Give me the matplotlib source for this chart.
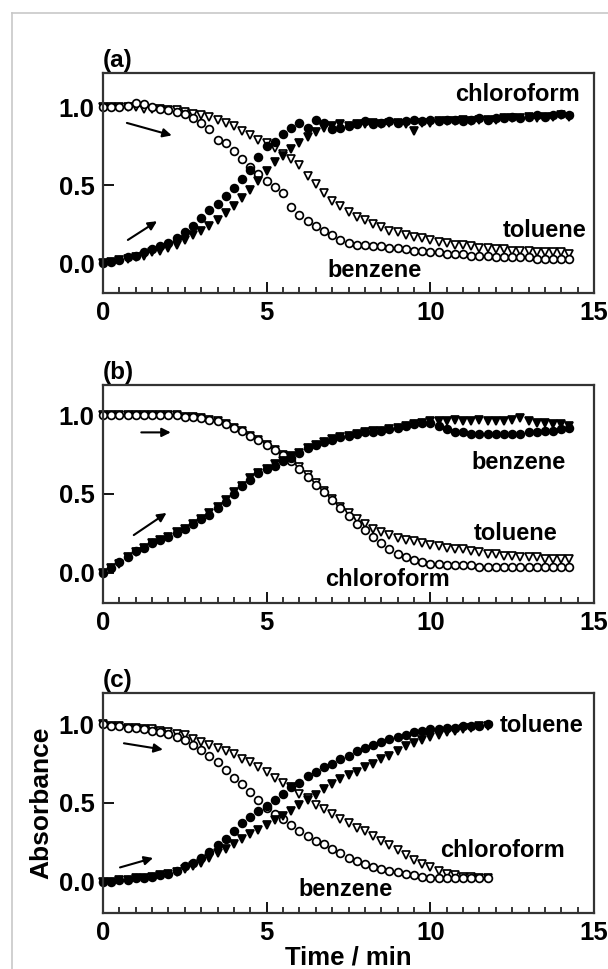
import matplotlib
matplotlib.use("Agg")
import matplotlib.pyplot as plt
from matplotlib.lines import Line2D

plt.rcParams['font.family'] = ['Liberation Sans', 'DejaVu Sans']
plt.rcParams['font.weight'] = 'bold'

# ---------------- data ----------------
t_ab = [0.0, 0.25, 0.5, 0.75, 1.0, 1.25, 1.5, 1.75, 2.0, 2.25,
        2.5, 2.75, 3.0, 3.25, 3.5, 3.75, 4.0, 4.25, 4.5, 4.75,
        5.0, 5.25, 5.5, 5.75, 6.0, 6.25, 6.5, 6.75, 7.0, 7.25,
        7.5, 7.75, 8.0, 8.25, 8.5, 8.75, 9.0, 9.25, 9.5, 9.75,
        10.0, 10.25, 10.5, 10.75, 11.0, 11.25, 11.5, 11.75, 12.0, 12.25,
        12.5, 12.75, 13.0, 13.25, 13.5, 13.75, 14.0, 14.25]

t_c = [0.0, 0.25, 0.5, 0.75, 1.0, 1.25, 1.5, 1.75, 2.0, 2.25,
       2.5, 2.75, 3.0, 3.25, 3.5, 3.75, 4.0, 4.25, 4.5, 4.75,
       5.0, 5.25, 5.5, 5.75, 6.0, 6.25, 6.5, 6.75, 7.0, 7.25,
       7.5, 7.75, 8.0, 8.25, 8.5, 8.75, 9.0, 9.25, 9.5, 9.75,
       10.0, 10.25, 10.5, 10.75, 11.0, 11.25, 11.5, 11.75]

# panel (a)
a_rise_circle = [0.00, 0.01, 0.02, 0.04, 0.05, 0.07, 0.09, 0.11, 0.13, 0.16,
                 0.20, 0.24, 0.29, 0.34, 0.38, 0.43, 0.48, 0.54, 0.60, 0.68,
                 0.75, 0.78, 0.83, 0.87, 0.90, 0.87, 0.92, 0.90, 0.86, 0.87,
                 0.88, 0.89, 0.91, 0.89, 0.90, 0.91, 0.90, 0.91, 0.92, 0.91,
                 0.92, 0.91, 0.92, 0.92, 0.91, 0.92, 0.93, 0.92, 0.93, 0.93,
                 0.94, 0.93, 0.94, 0.95, 0.94, 0.95, 0.96, 0.95]
a_rise_tri = [0.00, 0.01, 0.02, 0.03, 0.04, 0.05, 0.07, 0.08, 0.10, 0.12,
              0.15, 0.18, 0.21, 0.24, 0.28, 0.32, 0.37, 0.42, 0.47, 0.53,
              0.59, 0.65, 0.69, 0.73, 0.77, 0.81, 0.84, 0.87, 0.88, 0.89,
              0.88, 0.89, 0.89, 0.90, 0.89, 0.90, 0.90, 0.89, 0.85, 0.90,
              0.90, 0.91, 0.91, 0.91, 0.92, 0.91, 0.92, 0.92, 0.92, 0.93,
              0.93, 0.93, 0.94, 0.93, 0.94, 0.94, 0.95, 0.94]
a_fall_circle = [1.00, 1.00, 1.00, 1.01, 1.03, 1.02, 1.00, 0.99, 0.98, 0.97,
                 0.96, 0.93, 0.90, 0.86, 0.79, 0.77, 0.72, 0.67, 0.62, 0.57,
                 0.53, 0.49, 0.45, 0.36, 0.31, 0.27, 0.24, 0.21, 0.18, 0.15,
                 0.13, 0.12, 0.12, 0.11, 0.11, 0.10, 0.10, 0.09, 0.08, 0.08,
                 0.07, 0.07, 0.06, 0.06, 0.06, 0.05, 0.05, 0.05, 0.04, 0.04,
                 0.04, 0.04, 0.04, 0.03, 0.03, 0.03, 0.03, 0.03]
a_fall_tri = [1.00, 1.00, 1.00, 1.00, 1.00, 0.99, 0.99, 0.99, 0.98, 0.98,
              0.97, 0.96, 0.95, 0.94, 0.92, 0.90, 0.88, 0.85, 0.82, 0.79,
              0.77, 0.74, 0.70, 0.67, 0.63, 0.56, 0.51, 0.45, 0.40, 0.37,
              0.33, 0.30, 0.28, 0.25, 0.23, 0.21, 0.20, 0.18, 0.17, 0.16,
              0.15, 0.14, 0.13, 0.12, 0.12, 0.11, 0.10, 0.10, 0.09, 0.09,
              0.08, 0.08, 0.08, 0.07, 0.07, 0.07, 0.07, 0.06]

# panel (b)
b_rise_circle = [0.00, 0.03, 0.07, 0.10, 0.14, 0.16, 0.19, 0.21, 0.23, 0.25,
                 0.28, 0.31, 0.34, 0.37, 0.41, 0.45, 0.50, 0.55, 0.59, 0.63,
                 0.66, 0.68, 0.71, 0.73, 0.76, 0.79, 0.81, 0.83, 0.84, 0.86,
                 0.87, 0.88, 0.89, 0.89, 0.90, 0.91, 0.92, 0.93, 0.94, 0.95,
                 0.95, 0.93, 0.91, 0.89, 0.89, 0.88, 0.88, 0.88, 0.88, 0.88,
                 0.88, 0.88, 0.89, 0.89, 0.90, 0.90, 0.91, 0.92]
b_rise_tri = [0.00, 0.03, 0.06, 0.10, 0.13, 0.16, 0.19, 0.21, 0.23, 0.26,
              0.28, 0.31, 0.34, 0.38, 0.42, 0.46, 0.51, 0.55, 0.60, 0.63,
              0.66, 0.69, 0.71, 0.74, 0.76, 0.79, 0.81, 0.83, 0.85, 0.86,
              0.87, 0.88, 0.89, 0.90, 0.90, 0.91, 0.92, 0.93, 0.94, 0.95,
              0.96, 0.96, 0.96, 0.97, 0.96, 0.96, 0.97, 0.96, 0.96, 0.96,
              0.97, 0.98, 0.96, 0.95, 0.95, 0.94, 0.94, 0.93]
b_fall_circle = [1.00, 1.00, 1.00, 1.00, 1.00, 1.00, 1.00, 1.00, 1.00, 1.00,
                 0.99, 0.99, 0.98, 0.97, 0.96, 0.94, 0.92, 0.90, 0.87, 0.84,
                 0.81, 0.78, 0.75, 0.71, 0.66, 0.61, 0.56, 0.51, 0.46, 0.41,
                 0.36, 0.31, 0.27, 0.23, 0.19, 0.15, 0.12, 0.10, 0.08, 0.07,
                 0.06, 0.06, 0.05, 0.05, 0.05, 0.05, 0.04, 0.04, 0.04, 0.04,
                 0.04, 0.04, 0.04, 0.04, 0.04, 0.04, 0.04, 0.04]
b_fall_tri = [1.00, 1.00, 1.00, 1.00, 1.00, 1.00, 1.00, 1.00, 1.00, 1.00,
              0.99, 0.99, 0.98, 0.97, 0.96, 0.94, 0.92, 0.90, 0.87, 0.84,
              0.81, 0.78, 0.75, 0.72, 0.67, 0.62, 0.57, 0.52, 0.47, 0.42,
              0.38, 0.34, 0.31, 0.28, 0.26, 0.24, 0.22, 0.21, 0.20, 0.19,
              0.18, 0.17, 0.16, 0.15, 0.15, 0.14, 0.13, 0.12, 0.12, 0.11,
              0.11, 0.10, 0.10, 0.10, 0.09, 0.09, 0.09, 0.09]

# panel (c)
c_rise_circle = [0.00, 0.00, 0.01, 0.01, 0.02, 0.02, 0.03, 0.04, 0.05, 0.07,
                 0.10, 0.12, 0.15, 0.19, 0.23, 0.27, 0.32, 0.37, 0.41, 0.45,
                 0.48, 0.52, 0.56, 0.60, 0.63, 0.67, 0.70, 0.73, 0.75, 0.78,
                 0.80, 0.83, 0.85, 0.87, 0.89, 0.91, 0.92, 0.93, 0.95, 0.96,
                 0.97, 0.97, 0.98, 0.98, 0.99, 0.99, 0.99, 1.00]
c_rise_tri = [0.00, 0.00, 0.01, 0.01, 0.02, 0.02, 0.03, 0.04, 0.05, 0.06,
              0.08, 0.10, 0.12, 0.15, 0.18, 0.21, 0.24, 0.27, 0.30, 0.33,
              0.36, 0.39, 0.42, 0.45, 0.49, 0.52, 0.55, 0.59, 0.62, 0.65,
              0.68, 0.70, 0.73, 0.75, 0.78, 0.80, 0.83, 0.86, 0.88, 0.90,
              0.92, 0.93, 0.95, 0.96, 0.97, 0.98, 0.99, 0.99]
c_fall_circle = [1.00, 0.99, 0.99, 0.98, 0.98, 0.97, 0.96, 0.95, 0.94, 0.92,
                 0.90, 0.87, 0.84, 0.80, 0.76, 0.71, 0.66, 0.62, 0.57, 0.52,
                 0.47, 0.43, 0.40, 0.36, 0.32, 0.29, 0.26, 0.24, 0.21, 0.18,
                 0.15, 0.13, 0.11, 0.09, 0.08, 0.07, 0.06, 0.05, 0.04, 0.03,
                 0.02, 0.02, 0.02, 0.02, 0.02, 0.02, 0.02, 0.02]
c_fall_tri = [1.00, 0.99, 0.99, 0.98, 0.98, 0.97, 0.97, 0.96, 0.95, 0.94,
              0.93, 0.91, 0.89, 0.87, 0.85, 0.83, 0.81, 0.78, 0.76, 0.73,
              0.70, 0.66, 0.63, 0.60, 0.56, 0.53, 0.49, 0.46, 0.43, 0.40,
              0.37, 0.34, 0.32, 0.29, 0.26, 0.23, 0.20, 0.17, 0.14, 0.11,
              0.09, 0.07, 0.05, 0.04, 0.03, 0.03, 0.02, 0.02]

panel_tags = ['(a)', '(b)', '(c)']
x_ticks = [0, 5, 10, 15]
y_ticks = [0.0, 0.5, 1.0]

# ---------------- figure ----------------
fig = plt.figure(figsize=(6.08, 9.69), dpi=100)
W, H = 608, 969

# light grey frame of the scanned figure
fig.add_artist(Line2D([12 / W, 12 / W], [0, 1 - 13 / H], transform=fig.transFigure,
                      color='#c8c8c8', lw=1.2))
fig.add_artist(Line2D([12 / W, 1], [1 - 13 / H, 1 - 13 / H], transform=fig.transFigure,
                      color='#c8c8c8', lw=1.2))


def make_axes(top_px, bottom_px, left_px=103, right_px=594):
    return fig.add_axes([left_px / W, 1 - bottom_px / H,
                         (right_px - left_px) / W, (bottom_px - top_px) / H])


ax_a = make_axes(73, 293)
ax_b = make_axes(385, 603)
ax_c = make_axes(693, 913)

ms = 5.6
mew = 1.25


def draw(ax, t, rc, rt, fc, ft):
    kw = dict(linestyle='none', markersize=ms, markeredgewidth=mew, clip_on=False,
              markeredgecolor='black')
    ax.plot(t, ft, marker='v', markerfacecolor='white', **kw)
    ax.plot(t, fc, marker='o', markerfacecolor='white', **kw)
    ax.plot(t, rt, marker='v', markerfacecolor='black', **kw)
    ax.plot(t, rc, marker='o', markerfacecolor='black', **kw)


draw(ax_a, t_ab, a_rise_circle, a_rise_tri, a_fall_circle, a_fall_tri)
draw(ax_b, t_ab, b_rise_circle, b_rise_tri, b_fall_circle, b_fall_tri)
draw(ax_c, t_c, c_rise_circle, c_rise_tri, c_fall_circle, c_fall_tri)

ylims = [(-0.19, 1.22), (-0.19, 1.19), (-0.2, 1.2)]
for ax, tag, yl in zip([ax_a, ax_b, ax_c], panel_tags, ylims):
    ax.set_xlim(0, 15)
    ax.set_ylim(*yl)
    ax.set_xticks(x_ticks)
    ax.set_xticklabels([str(v) for v in x_ticks])
    ax.set_xticks([i * 0.5 for i in range(31)], minor=True)
    ax.set_yticks(y_ticks)
    ax.set_yticklabels(['%.1f' % v for v in y_ticks])
    ax.tick_params(axis='both', which='major', direction='in', length=8, width=1.3,
                   labelsize=18.5, pad=6, colors='black')
    ax.tick_params(axis='x', which='minor', direction='in', length=4.5, width=1.1)
    ax.tick_params(top=False, right=False)
    for lab in ax.get_xticklabels() + ax.get_yticklabels():
        lab.set_fontweight('bold')
    for sp in ax.spines.values():
        sp.set_color('#333333')
        sp.set_linewidth(1.6)
    ax.text(0.0, 1.005, tag, transform=ax.transAxes, ha='left', va='bottom',
            fontsize=17.5, fontweight='bold')

lab_kw = dict(fontsize=17, fontweight='bold', ha='center', va='center')
arr_kw = dict(arrowstyle='-|>', color='black', lw=1.5, mutation_scale=13,
              shrinkA=0, shrinkB=0)

# (a) annotations
ax_a.text(12.65, 1.08, 'chloroform', **lab_kw)
ax_a.text(13.5, 0.21, 'toluene', **lab_kw)
ax_a.text(8.3, -0.045, 'benzene', **lab_kw)
ax_a.annotate('', xy=(2.1, 0.82), xytext=(0.73, 0.90), arrowprops=arr_kw)
ax_a.annotate('', xy=(1.65, 0.27), xytext=(0.76, 0.15), arrowprops=arr_kw)

# (b) annotations
ax_b.text(12.7, 0.70, 'benzene', **lab_kw)
ax_b.text(12.6, 0.25, 'toluene', **lab_kw)
ax_b.text(8.7, -0.04, 'chloroform', **lab_kw)
ax_b.annotate('', xy=(2.07, 0.89), xytext=(1.17, 0.89), arrowprops=arr_kw)
ax_b.annotate('', xy=(1.94, 0.38), xytext=(0.94, 0.24), arrowprops=arr_kw)

# (c) annotations
ax_c.text(13.4, 0.99, 'toluene', **lab_kw)
ax_c.text(12.2, 0.20, 'chloroform', **lab_kw)
ax_c.text(7.4, -0.05, 'benzene', **lab_kw)
ax_c.annotate('', xy=(1.83, 0.84), xytext=(0.64, 0.88), arrowprops=arr_kw)
ax_c.annotate('', xy=(1.53, 0.15), xytext=(0.52, 0.09), arrowprops=arr_kw)

ax_c.set_xlabel('Time / min', fontsize=18.5, fontweight='bold', labelpad=0)
ax_c.set_ylabel('Absorbance', fontsize=19, fontweight='bold', labelpad=4)

fig.savefig('out.png', dpi=100)
